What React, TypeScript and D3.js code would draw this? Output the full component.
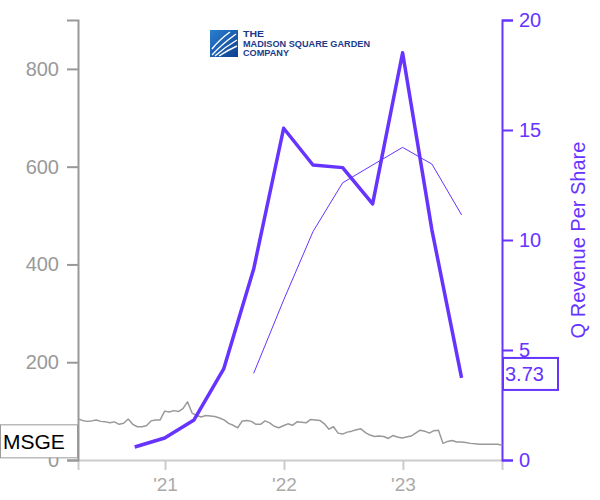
import React, { useEffect, useRef } from "react";
import * as d3 from "d3";

// ---- data ----
const priceStart = "2020-04-09";
const priceStepDays = 14;
const priceValues = [
  84, 81, 79, 80, 82, 79, 78, 76, 78, 73, 75, 84, 73, 68, 68, 70, 80, 82, 82, 100,
  98, 101, 99, 105, 119, 96, 91, 88, 91, 90, 89, 86, 82, 75, 71, 66, 80, 81, 79, 73,
  73, 80, 76, 69, 66, 70, 74, 71, 78, 77, 76, 83, 82, 81, 74, 63, 68, 55, 53, 57,
  59, 62, 64, 56, 51, 48, 49, 48, 44, 50, 47, 45, 47, 49, 55, 61, 59, 55, 60, 61,
  34, 38, 40, 37, 37, 36, 34, 33, 32, 32, 32, 32, 32, 30,
];
const quarterDates = [
  "2020-09-30", "2020-12-31", "2021-03-31", "2021-06-30", "2021-09-30", "2021-12-31",
  "2022-03-31", "2022-06-30", "2022-09-30", "2022-12-31", "2023-03-31", "2023-06-30",
];
const revenuePerShare = [0.59, 1.0, 1.82, 4.14, 8.68, 15.08, 13.41, 13.29, 11.64, 18.51, 10.45, 3.73];
const ttmDates = [
  "2021-09-30", "2021-12-31", "2022-03-31", "2022-06-30", "2022-09-30", "2022-12-31",
  "2023-03-31", "2023-06-30",
];
const ttmAvgRevenue = [3.94, 7.27, 10.38, 12.6, 13.41, 14.21, 13.45, 11.14];
const leftTicks = [0, 200, 400, 600, 800];
const rightTicks = [0, 5, 10, 15, 20];
const yearTicks = ["2021-01-01", "2022-01-01", "2023-01-01"];
const tickerLabel = "MSGE";
const rightTitle = "Q Revenue Per Share";
const lastValueLabel = "3.73";
const logoLines = ["THE", "MADISON SQUARE GARDEN", "COMPANY"];

const PURPLE = "#6633ff";
const GRAY = "#999999";
const FONT = "'Liberation Sans', Arial, sans-serif";

export default function App() {
  const leftRef = useRef<SVGGElement>(null);
  const rightRef = useRef<SVGGElement>(null);
  const bottomRef = useRef<SVGGElement>(null);

  const parse = d3.utcParse("%Y-%m-%d");
  const start = parse(priceStart)!;
  const priceData = priceValues.map((v, i) => ({ d: d3.utcDay.offset(start, i * priceStepDays), v }));
  const revData = quarterDates.map((d, i) => ({ d: parse(d)!, v: revenuePerShare[i] }));
  const ttmData = ttmDates.map((d, i) => ({ d: parse(d)!, v: ttmAvgRevenue[i] }));

  const x = d3.scaleUtc().domain([start, parse("2023-11-01")!]).range([78, 502]);
  const yL = d3.scaleLinear().domain([0, 900]).range([460, 20]);
  const yR = d3.scaleLinear().domain([0, 20]).range([460, 20]);

  const priceLine = d3.line<{ d: Date; v: number }>().x((p) => x(p.d)).y((p) => yL(p.v));
  const revLine = d3.line<{ d: Date; v: number }>().x((p) => x(p.d)).y((p) => yR(p.v));

  useEffect(() => {
    const fmt = d3.utcFormat("'%y");
    const gB = d3.select(bottomRef.current!);
    gB.selectAll("*").remove();
    gB.call(
      d3.axisBottom(x).tickValues(yearTicks.map((s) => parse(s)!)).tickFormat((d) => fmt(d as Date)).tickSize(10).tickSizeOuter(10).tickPadding(8)
    );
    gB.selectAll("path,line").attr("stroke", "#cccccc").attr("stroke-width", 2);
    gB.selectAll("text").attr("fill", "#aaaaaa").attr("font-size", 19).attr("font-family", FONT);

    const gL = d3.select(leftRef.current!);
    gL.selectAll("*").remove();
    gL.call(d3.axisLeft(yL).tickValues(leftTicks).tickSize(11).tickSizeOuter(11).tickPadding(8));
    gL.selectAll("path,line").attr("stroke", GRAY).attr("stroke-width", 2);
    gL.selectAll("text").attr("fill", GRAY).attr("font-size", 20).attr("font-family", FONT);

    const gR = d3.select(rightRef.current!);
    gR.selectAll("*").remove();
    gR.call(d3.axisRight(yR).tickValues(rightTicks).tickSize(11).tickSizeOuter(11).tickPadding(6));
    gR.selectAll("path,line").attr("stroke", PURPLE).attr("stroke-width", 2);
    gR.selectAll("text").attr("fill", PURPLE).attr("font-size", 20).attr("font-family", FONT);
  }, []);

  const lastPrice = priceValues[priceValues.length - 1];
  const lastRev = revenuePerShare[revenuePerShare.length - 1];

  return (
    <svg width={600} height={500} style={{ position: "absolute", left: 0, top: 0, background: "#fff" }}>
      <defs>
        <linearGradient id="logoGrad" x1="0" y1="0" x2="1" y2="1">
          <stop offset="0" stopColor="#2a7fd0" />
          <stop offset="1" stopColor="#0d3f8f" />
        </linearGradient>
      </defs>
      {/* logo */}
      <g>
        <rect x={210} y={30} width={28} height={27} fill="url(#logoGrad)" />
        <g stroke="#fff" strokeWidth={1.4} fill="none">
          <path d="M212,55 Q222,44 236,34" />
          <path d="M215,56 Q225,47 237,40" />
          <path d="M219,56 Q228,50 237,46" />
          <path d="M212,49 Q220,39 230,32" />
        </g>
        <g fill="#1b3a8c" fontFamily={FONT} fontWeight="bold" fontSize={8.3}>
          <text x={243} y={37.2} textLength={21} lengthAdjust="spacingAndGlyphs">{logoLines[0]}</text>
          <text x={243} y={46.6} textLength={127} lengthAdjust="spacingAndGlyphs">{logoLines[1]}</text>
          <text x={243} y={56} textLength={46} lengthAdjust="spacingAndGlyphs">{logoLines[2]}</text>
        </g>
      </g>

      <g ref={bottomRef} transform="translate(0,460)" />
      <g ref={leftRef} transform="translate(78,0)" />
      <g ref={rightRef} transform="translate(502,0)" />

      <path d={priceLine(priceData)!} fill="none" stroke={GRAY} strokeWidth={1.5} strokeLinejoin="round" />
      <path d={revLine(ttmData)!} fill="none" stroke={PURPLE} strokeWidth={1} />
      <path d={revLine(revData)!} fill="none" stroke={PURPLE} strokeWidth={3.5} strokeLinejoin="round" />

      <text
        transform={`translate(585,240) rotate(-90)`}
        textAnchor="middle"
        fill={PURPLE}
        fontSize={20}
        fontFamily={FONT}
      >
        {rightTitle}
      </text>

      {/* last value label */}
      <g transform={`translate(0,${yR(lastRev) - 4})`}>
        <rect x={503} y={-16} width={55} height={32} fill="#fff" stroke={PURPLE} strokeWidth={2} />
        <text x={505} y={7} fill={PURPLE} fontSize={20} fontFamily={FONT}>{lastValueLabel}</text>
      </g>

      {/* ticker label */}
      <g transform={`translate(0,${yL(lastPrice) - 4})`}>
        <rect x={0.5} y={-16.5} width={77} height={33} fill="#fff" stroke={GRAY} strokeWidth={1} />
        <text x={3} y={8} fill="#000" fontSize={21} fontFamily={FONT}>{tickerLabel}</text>
      </g>
    </svg>
  );
}
